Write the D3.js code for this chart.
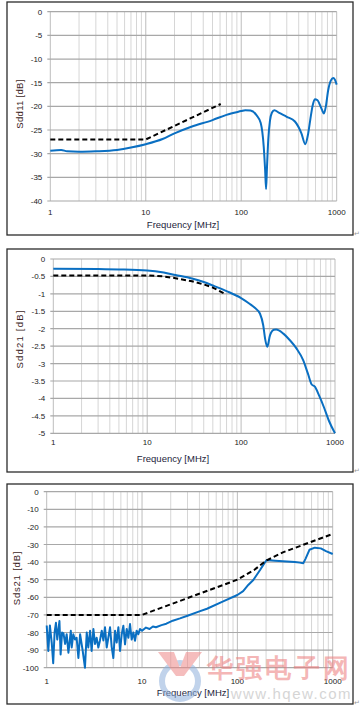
<!DOCTYPE html>
<html>
<head>
<meta charset="utf-8">
<script src="https://cdn.jsdelivr.net/npm/d3@7"></script>
<style>
  body { margin: 0; background: #fff; }
  svg { display: block; }
  text { font-family: "Liberation Sans", Arial, sans-serif; }
</style>
</head>
<body>
<div id="chart"></div>
<script>
// ---- data ----
var xTickLabels = [1, 10, 100, 1000];

// panel 1 : Sdd11
var sdd11Ticks = [0, -5, -10, -15, -20, -25, -30, -35, -40];
var sdd11Freq = [1, 1.3, 1.5, 2, 3, 5, 7, 10, 15, 20, 30, 50, 70, 100, 110, 125, 145, 160, 172, 178, 182, 186, 192, 200, 210, 222, 250, 300, 365, 427, 468, 500, 528, 560, 590, 630, 667, 700, 735, 770, 814, 870, 920, 960, 1000];
var sdd11Vals = [-29.4, -29.2, -29.5, -29.6, -29.5, -29.2, -28.7, -28.0, -26.9, -25.7, -24.3, -22.9, -21.8, -21.0, -20.8, -20.9, -21.9, -23.5, -28.5, -33.5, -37.5, -33.0, -27.0, -23.0, -21.3, -20.8, -21.4, -22.2, -23.2, -25.7, -28.0, -26.0, -22.9, -19.8, -18.5, -18.7, -19.7, -20.7, -21.5, -20.0, -16.6, -14.5, -14.0, -14.4, -15.4];
var sdd11LimFreq = [1, 10, 61];
var sdd11LimVals = [-27, -27, -19.5];

// panel 2 : Sdd21
var sdd21Ticks = [0, -0.5, -1, -1.5, -2, -2.5, -3, -3.5, -4, -4.5, -5];
var sdd21Freq = [1, 3, 5, 10, 15, 20, 30, 40, 50, 70, 100, 124, 140, 159, 172, 180, 190, 203, 223, 236, 282, 331, 390, 458, 515, 565, 610, 678, 764, 861, 1000];
var sdd21Vals = [-0.28, -0.29, -0.3, -0.33, -0.39, -0.46, -0.56, -0.66, -0.76, -0.92, -1.12, -1.29, -1.4, -1.57, -1.9, -2.28, -2.52, -2.19, -2.03, -2.02, -2.14, -2.33, -2.57, -2.9, -3.29, -3.6, -3.66, -3.92, -4.26, -4.64, -5.0];
var sdd21LimFreq = [1, 10, 15, 20, 30, 40, 50, 65];
var sdd21LimVals = [-0.47, -0.47, -0.5, -0.55, -0.64, -0.73, -0.82, -0.98];

// panel 3 : Sds21
var sds21Ticks = [0, -10, -20, -30, -40, -50, -60, -70, -80, -90, -100];
var sds21Freq = [1, 1.04, 1.08, 1.13, 1.17, 1.21, 1.25, 1.29, 1.36, 1.40, 1.45, 1.50, 1.56, 1.62, 1.69, 1.79, 1.83, 1.90, 1.98, 2.06, 2.15, 2.24, 2.38, 2.52, 2.63, 2.73, 2.85, 2.96, 3.09, 3.21, 3.34, 3.48, 3.62, 3.78, 3.93, 4.09, 4.26, 4.43, 4.62, 4.80, 5.00, 5.21, 5.42, 5.65, 5.88, 6.12, 6.37, 6.63, 6.91, 7.19, 7.48, 7.79, 8.11, 8.44, 8.78, 9.15, 9.52, 10, 11, 12, 13, 14, 16, 18, 21, 25, 30, 40, 48, 70, 100, 115, 130, 147, 173, 190, 203, 250, 300, 400, 450, 492, 520, 570, 650, 750, 850, 1000];
var sds21Vals = [-76, -90.5, -76, -86, -97.5, -80, -74.5, -84, -73.5, -92.5, -80, -80.5, -86.5, -81, -91.5, -79, -88.5, -81, -84, -83, -94.5, -81, -90, -100, -80, -88.5, -79, -90.5, -78, -86.5, -83, -88.5, -84.5, -79, -84.5, -77, -88.5, -83, -77, -88, -94.5, -79, -85.7, -77, -90.5, -81, -76.2, -86.7, -78, -83, -75.2, -84, -80, -84.7, -79, -81, -78, -79, -77.2, -78, -76.6, -77, -75.8, -75, -73.3, -72, -70.5, -68, -66.5, -62.5, -58.7, -56.5, -53, -50.2, -44.5, -41, -38.8, -39.2, -39.5, -40, -40.3, -40.6, -38, -33, -31.8, -32.2, -33.8, -35.4];
var sds21LimFreq = [1, 10, 100, 150, 200, 300, 500, 1000];
var sds21LimVals = [-70, -70, -50, -44.5, -39.2, -34.5, -30, -24];

// ---- layout ----
var W = 361, H = 710;
var svg = d3.select("#chart").append("svg")
  .attr("width", W)
  .attr("height", H);

var panels = [
  { frame: [7, 2, 346, 233], plot: { l: 50.3, r: 336.7, t: 11.7, b: 201 },
    ticks: sdd11Ticks, fmt: function(d) { return d; },
    freq: sdd11Freq, vals: sdd11Vals, limF: sdd11LimFreq, limV: sdd11LimVals,
    curve: d3.curveMonotoneX, xLabY: 215, xTitle: [183, 227.5], yTitle: [20, 104], yTitleText: "Sdd11 [dB]", ls: 0.3 },
  { frame: [7, 249, 346, 223], plot: { l: 53.3, r: 335, t: 259, b: 433.3 },
    ticks: sdd21Ticks, fmt: function(d) { return d; },
    freq: sdd21Freq, vals: sdd21Vals, limF: sdd21LimFreq, limV: sdd21LimVals,
    curve: d3.curveMonotoneX, xLabY: 444.5, xTitle: [173, 461.5], yTitle: [20, 339], yTitleText: "Sdd21  [dB]", ls: 1.2 },
  { frame: [7, 484, 346, 220], plot: { l: 46.7, r: 332.7, t: 491.7, b: 667.7 },
    ticks: sds21Ticks, fmt: function(d) { return d; },
    freq: sds21Freq, vals: sds21Vals, limF: sds21LimFreq, limV: sds21LimVals,
    curve: d3.curveLinear, xLabY: 684, xTitle: [193, 696], yTitle: [17, 578], yTitleText: "Sds21 [dB]", ls: 0.8 }
];

panels.forEach(function(p) {
  var g = svg.append("g");
  var yMin = d3.min(p.ticks), yMax = d3.max(p.ticks);

  var x = d3.scaleLog().domain([1, 1000]).range([p.plot.l, p.plot.r]);
  var y = d3.scaleLinear().domain([yMin, yMax]).range([p.plot.b, p.plot.t]);

  // outer frame
  g.append("rect")
    .attr("x", p.frame[0]).attr("y", p.frame[1])
    .attr("width", p.frame[2]).attr("height", p.frame[3])
    .attr("fill", "#fff")
    .attr("stroke", "#2b2b2b")
    .attr("stroke-width", 1.3);

  // paragraph mark
  g.append("text")
    .attr("x", 357)
    .attr("y", p.frame[1] + p.frame[3] + 1)
    .attr("text-anchor", "middle")
    .attr("font-size", 6.5)
    .attr("fill", "#9a9a9a")
    .text("\u21B5");

  // vertical grid (log minor + decades)
  g.selectAll(".vgrid")
    .data(x.ticks())
    .enter().append("line")
    .attr("x1", function(d) { return x(d); })
    .attr("x2", function(d) { return x(d); })
    .attr("y1", p.plot.t)
    .attr("y2", p.plot.b)
    .attr("stroke", function(d) { return xTickLabels.indexOf(d) >= 0 ? "#bdbdbd" : "#d6d6d6"; })
    .attr("stroke-width", 1);

  // horizontal grid
  g.selectAll(".hgrid")
    .data(p.ticks)
    .enter().append("line")
    .attr("x1", p.plot.l - 3)
    .attr("x2", p.plot.r)
    .attr("y1", function(d) { return y(d); })
    .attr("y2", function(d) { return y(d); })
    .attr("stroke", "#a8a8a8")
    .attr("stroke-width", 1.2);

  // y tick labels
  g.selectAll(".ylab")
    .data(p.ticks)
    .enter().append("text")
    .attr("x", p.plot.l - 8)
    .attr("y", function(d) { return y(d) + 3; })
    .attr("text-anchor", "end")
    .attr("font-size", 8)
    .attr("fill", "#222")
    .text(p.fmt);

  // x tick labels
  g.selectAll(".xlab")
    .data(xTickLabels)
    .enter().append("text")
    .attr("x", function(d) { return x(d); })
    .attr("y", p.xLabY)
    .attr("text-anchor", "middle")
    .attr("font-size", 8)
    .attr("fill", "#222")
    .text(function(d) { return d; });

  // axis titles
  g.append("text")
    .attr("x", p.xTitle[0]).attr("y", p.xTitle[1])
    .attr("text-anchor", "middle")
    .attr("font-size", 9.5)
    .attr("fill", "#1e1e3c")
    .text("Frequency [MHz]");

  g.append("text")
    .attr("transform", "translate(" + p.yTitle[0] + "," + p.yTitle[1] + ") rotate(-90)")
    .attr("text-anchor", "middle")
    .attr("dy", "0.35em")
    .attr("font-size", 9.5)
    .attr("letter-spacing", p.ls)
    .attr("fill", "#3c1e1e")
    .text(p.yTitleText);

  // measured curve
  var line = d3.line()
    .x(function(d) { return x(d[0]); })
    .y(function(d) { return y(d[1]); })
    .curve(p.curve);

  g.append("path")
    .datum(d3.zip(p.freq, p.vals))
    .attr("d", line)
    .attr("fill", "none")
    .attr("stroke", "#0a6fc2")
    .attr("stroke-width", 2)
    .attr("stroke-linejoin", "round");

  // limit line
  g.append("path")
    .datum(d3.zip(p.limF, p.limV))
    .attr("d", line.curve(d3.curveLinear))
    .attr("fill", "none")
    .attr("stroke", "#000")
    .attr("stroke-width", 2)
    .attr("stroke-dasharray", "5,3");
});

// ---- watermark ----
var wm = svg.append("g").attr("opacity", 0.55);
wm.append("circle")
  .attr("cx", 180).attr("cy", 681).attr("r", 18)
  .attr("fill", "none")
  .attr("stroke", "#8fb0dc")
  .attr("stroke-width", 6);
wm.append("path")
  .attr("d", "M158,652 L174,652 L180,668 L186,652 L202,652 L184,676 L176,676 Z")
  .attr("fill", "#ee8888");
wm.append("text")
  .attr("x", 352).attr("y", 677)
  .attr("text-anchor", "end")
  .attr("font-family", "Noto Sans CJK SC")
  .attr("font-weight", "bold")
  .attr("font-size", 26)
  .attr("letter-spacing", 3)
  .attr("fill", "#ec7b7b")
  .text("华强电子网");
wm.append("text")
  .attr("x", 352).attr("y", 699)
  .attr("text-anchor", "end")
  .attr("font-family", "DejaVu Sans")
  .attr("font-size", 15)
  .attr("letter-spacing", 1.5)
  .attr("fill", "#b4b4b4")
  .text("www.hqew.com");
</script>
</body>
</html>
